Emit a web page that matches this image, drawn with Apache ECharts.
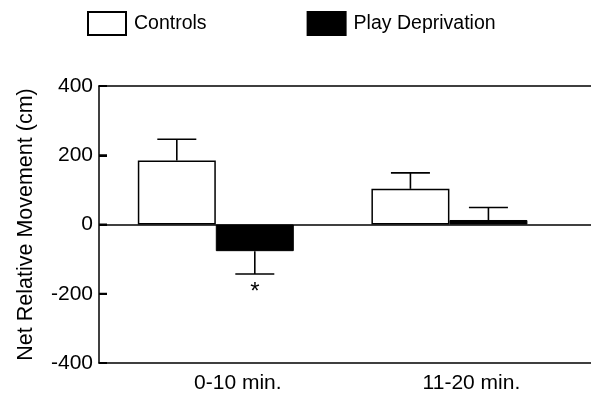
<!DOCTYPE html>
<html>
<head>
<meta charset="utf-8">
<script src="https://cdn.jsdelivr.net/npm/echarts@6/dist/echarts.min.js"></script>
<style>
html,body{margin:0;padding:0;background:#fff;}
#chart{width:591px;height:395px;}
</style>
</head>
<body>
<div id="chart"></div>
<script>
const categories = ['0-10 min.', '11-20 min.'];
const controlsValues = [185, 103];
const controlsErrors = [61, 46];
const playValues = [-77, 13];
const playErrors = [66, 36];
const significance = ['', ''];
const playSignificance = ['*', ''];
const yTicks = [-400, -200, 0, 200, 400];

const FONT = '"Liberation Sans", Arial, sans-serif';
const BAR_W = 78;
const X_MIN = -0.5, X_MAX = 1.606;

function toBarData(vals) {
  return vals.map((v, i) => [i, v]);
}
function toErrData(vals, errs, sig) {
  return vals.map((v, i) => [i, v, errs[i], sig[i]]);
}
function errRender(offset) {
  return function (params, api) {
    const x = api.value(0), v = api.value(1), e = api.value(2);
    const mark = api.value(3);
    const sign = v >= 0 ? 1 : -1;
    const p0 = api.coord([x, v]);
    const p1 = api.coord([x, v + sign * e]);
    const cx = p0[0] + offset;
    const half = BAR_W / 4;
    const style = { stroke: '#000', lineWidth: 1.6 };
    const children = [
      { type: 'line', shape: { x1: cx, y1: p0[1], x2: cx, y2: p1[1] }, style: style },
      { type: 'line', shape: { x1: cx - half, y1: p1[1], x2: cx + half, y2: p1[1] }, style: style }
    ];
    if (mark && mark !== '') {
      children.push({
        type: 'text',
        style: { text: mark, x: cx, y: p1[1] + 6, align: 'center', verticalAlign: 'top',
                 fill: '#000', font: '24px ' + FONT }
      });
    }
    return { type: 'group', children: children };
  };
}
function tickRender(params, api) {
  const p = api.coord([X_MIN, api.value(1)]);
  return { type: 'line', shape: { x1: p[0], y1: p[1], x2: p[0] + 8, y2: p[1] },
           style: { stroke: '#000', lineWidth: 2 } };
}

const chart = echarts.init(document.getElementById('chart'), null, { renderer: 'canvas' });
chart.setOption({
  animation: false,
  backgroundColor: '#fff',
  textStyle: { fontFamily: FONT, color: '#000' },
  legend: {
    left: 87, top: 11, padding: 0,
    itemWidth: 38, itemHeight: 23, itemGap: 100,
    icon: 'rect',
    textStyle: { fontSize: 19.5, color: '#000', fontFamily: FONT, padding: [0, 0, 0, 3] },
    data: ['Controls', 'Play Deprivation']
  },
  grid: {
    left: 99, right: -3, top: 86, bottom: 32, show: false
  },
  xAxis: [{
    type: 'value', min: X_MIN, max: X_MAX, position: 'bottom',
    axisLine: { show: true, onZero: false, lineStyle: { color: '#000', width: 1.5 } },
    axisTick: { show: false },
    splitLine: { show: false },
    axisLabel: {
      customValues: categories.map((c, i) => i),
      formatter: v => categories[Math.round(v)] || '',
      fontSize: 21, color: '#000', fontFamily: FONT, margin: 10,
      padding: [0, 0, 0, 44]
    }
  }, {
    type: 'value', min: X_MIN, max: X_MAX, position: 'top',
    axisLine: { show: true, onZero: false, lineStyle: { color: '#000', width: 1.5 } },
    axisTick: { show: false }, axisLabel: { show: false }, splitLine: { show: false }
  }],
  yAxis: {
    type: 'value', min: -400, max: 400, interval: 200,
    name: 'Net Relative Movement (cm)', nameLocation: 'middle', nameGap: 62,
    nameTextStyle: { fontSize: 21.5, color: '#000', fontFamily: FONT },
    axisLine: { show: true, onZero: false, lineStyle: { color: '#000', width: 1.5 } },
    axisTick: { show: true, inside: true, length: 8, lineStyle: { color: '#000', width: 2 } },
    splitLine: { show: false },
    axisLabel: { fontSize: 21, color: '#000', fontFamily: FONT, margin: 6 }
  },
  series: [
    {
      name: 'Controls', type: 'bar', barWidth: BAR_W, barGap: '0%',
      data: toBarData(controlsValues),
      itemStyle: { color: '#fff', borderColor: '#000', borderWidth: 1.5 },
      markLine: {
        silent: true, symbol: 'none', label: { show: false },
        lineStyle: { color: '#000', width: 1.5, type: 'solid' },
        data: [{ yAxis: 0 }]
      }
    },
    {
      name: 'Play Deprivation', type: 'bar', barWidth: BAR_W, barGap: '0%',
      data: toBarData(playValues),
      itemStyle: { color: '#000', borderColor: '#000', borderWidth: 1 }
    },
    {
      type: 'custom', renderItem: errRender(-BAR_W / 2),
      data: toErrData(controlsValues, controlsErrors, significance), z: 5
    },
    {
      type: 'custom', renderItem: errRender(BAR_W / 2),
      data: toErrData(playValues, playErrors, playSignificance), z: 5
    },
    {
      type: 'custom', renderItem: tickRender, silent: true, clip: false,
      data: yTicks.map(v => [X_MIN, v]), z: 6
    }
  ]
});
</script>
</body>
</html>
